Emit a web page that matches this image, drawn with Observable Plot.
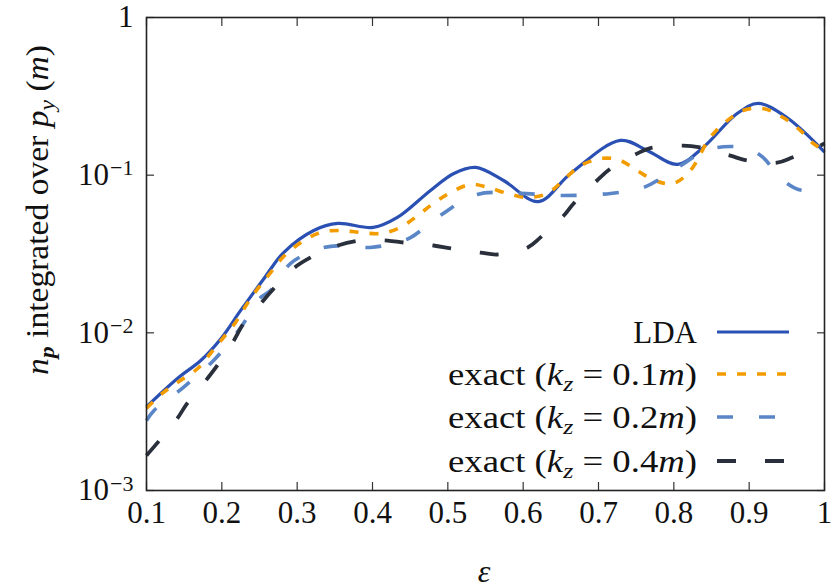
<!DOCTYPE html>
<html>
<head>
<meta charset="utf-8">
<script src="https://cdn.jsdelivr.net/npm/d3@7"></script>
<script src="https://cdn.jsdelivr.net/npm/@observablehq/plot@0.6"></script>
<style>
  html, body { margin: 0; padding: 0; background: #fff; }
  #chart { width: 832px; height: 588px; }
  #chart svg, #chart svg text, #chart svg tspan { font-family: "Liberation Serif", "Times New Roman", serif !important; }
</style>
</head>
<body>
<div id="chart"></div>
<script>
// ---- data ----
const ldaEps = [0.100, 0.141, 0.172, 0.199, 0.225, 0.256, 0.282, 0.322, 0.354, 0.401, 0.433, 0.477, 0.508, 0.537, 0.574, 0.620, 0.663, 0.729, 0.765, 0.805, 0.839, 0.884, 0.912, 0.950, 1.000];
const ldaVal = [0.0034, 0.00514, 0.00668, 0.00922, 0.01387, 0.0221, 0.0323, 0.0446, 0.0494, 0.0466, 0.0539, 0.0800, 0.1025, 0.112, 0.0925, 0.068, 0.1025, 0.166, 0.143, 0.117, 0.150, 0.246, 0.285, 0.232, 0.14];

const k01Eps = [0.100, 0.121, 0.145, 0.168, 0.185, 0.201, 0.218, 0.234, 0.249, 0.265, 0.282, 0.305, 0.331, 0.358, 0.384, 0.411, 0.437, 0.460, 0.481, 0.504, 0.530, 0.553, 0.579, 0.606, 0.632, 0.653, 0.676, 0.706, 0.729, 0.751, 0.775, 0.799, 0.822, 0.848, 0.871, 0.892, 0.918, 0.945, 0.968, 0.985, 1.000];
const k01Val = [0.00332, 0.00413, 0.00499, 0.00594, 0.0074, 0.0092, 0.0116, 0.0154, 0.0194, 0.0242, 0.0305, 0.0374, 0.0433, 0.0446, 0.0433, 0.0427, 0.0466, 0.0555, 0.0662, 0.0777, 0.0873, 0.0836, 0.0766, 0.0722, 0.0766, 0.0925, 0.115, 0.128, 0.124, 0.107, 0.0925, 0.0885, 0.107, 0.173, 0.222, 0.257, 0.265, 0.232, 0.192, 0.159, 0.143];

const k02Eps = [0.100, 0.110, 0.149, 0.189, 0.225, 0.250, 0.265, 0.291, 0.331, 0.362, 0.397, 0.433, 0.451, 0.490, 0.539, 0.596, 0.650, 0.716, 0.760, 0.799, 0.835, 0.858, 0.897, 0.918, 0.945, 0.972, 1.000];
const k02Val = [0.00278, 0.00322, 0.00451, 0.00668, 0.0108, 0.0165, 0.0186, 0.0275, 0.0343, 0.0358, 0.0348, 0.0374, 0.0403, 0.0555, 0.0755, 0.0766, 0.0743, 0.0766, 0.0836, 0.107, 0.137, 0.150, 0.148, 0.130, 0.0925, 0.080, 0.090];

const k04Eps = [0.100, 0.115, 0.141, 0.154, 0.181, 0.194, 0.216, 0.229, 0.252, 0.269, 0.295, 0.318, 0.354, 0.384, 0.420, 0.441, 0.481, 0.504, 0.543, 0.566, 0.606, 0.623, 0.654, 0.667, 0.698, 0.716, 0.751, 0.768, 0.812, 0.835, 0.875, 0.897, 0.937, 0.958, 0.990, 1.000];
const k04Val = [0.00167, 0.00202, 0.00287, 0.00357, 0.00514, 0.00621, 0.00895, 0.0115, 0.0154, 0.0191, 0.0256, 0.0301, 0.0358, 0.0385, 0.0385, 0.0374, 0.0358, 0.0343, 0.0323, 0.0314, 0.0348, 0.0403, 0.0555, 0.0662, 0.0925, 0.110, 0.137, 0.148, 0.154, 0.150, 0.133, 0.124, 0.120, 0.130, 0.150, 0.159];

const xTicks = [0.1, 0.2, 0.3, 0.4, 0.5, 0.6, 0.7, 0.8, 0.9, 1];
const xTickLabels = ["0.1", "0.2", "0.3", "0.4", "0.5", "0.6", "0.7", "0.8", "0.9", "1"];
const yTicks = [0.001, 0.01, 0.1, 1];
const yTickBase = ["10", "10", "10", "1"];
const yTickExp = ["−3", "−2", "−1", ""];

const seriesNames = ["LDA", "exact (k_z = 0.1m)", "exact (k_z = 0.2m)", "exact (k_z = 0.4m)"];
const seriesLabels = ["0.1", "0.2", "0.4"];
const colors = ["#2b50b3", "#f39c00", "#5a85c6", "#2a2f3c"];
const dashes = [null, "9,11", "16,26", "19,29"];
const widths = [3.2, 3.6, 3.6, 3.8];

const toRows = (xs, ys) => xs.map((x, i) => ({x, y: ys[i]}));
const series = [toRows(ldaEps, ldaVal), toRows(k01Eps, k01Val), toRows(k02Eps, k02Val), toRows(k04Eps, k04Val)];

const FONT = "Liberation Serif";

const chart = Plot.plot({
  width: 832,
  height: 588,
  marginLeft: 146,
  marginRight: 8,
  marginTop: 17,
  marginBottom: 98,
  style: {fontFamily: FONT, fontSize: "31px", color: "#111", background: "#fff", overflow: "visible"},
  x: {domain: [0.1, 1]},
  y: {type: "log", domain: [0.001, 1]},
  marks: [
    Plot.axisX({anchor: "bottom", ticks: xTicks, tickSize: -8, tickPadding: 18, label: null,
      tickFormat: d => xTickLabels[xTicks.indexOf(d)], stroke: "#333", strokeWidth: 1.2}),
    Plot.axisX({anchor: "top", ticks: xTicks, tickSize: -8, label: null, tickFormat: () => "", stroke: "#333", strokeWidth: 1.2}),
    Plot.axisY({anchor: "left", ticks: yTicks, tickSize: -8, tickPadding: 21, label: null,
      tickFormat: d => yTickBase[yTicks.indexOf(d)], stroke: "#333", strokeWidth: 1.2}),
    Plot.axisY({anchor: "right", ticks: yTicks, tickSize: -8, label: null, tickFormat: () => "", stroke: "#333", strokeWidth: 1.2}),
    ...series.map((rows, i) => Plot.line(rows, {
      x: "x", y: "y", curve: "catmull-rom",
      stroke: colors[i], strokeWidth: widths[i],
      strokeDasharray: dashes[i] ?? undefined, strokeLinecap: "butt"
    })),
    Plot.frame({stroke: "#222", strokeWidth: 1.6})
  ]
});

document.getElementById("chart").appendChild(chart);

const svg = d3.select(chart);

// superscript exponents on y tick labels (nodes come in tick order)
svg.selectAll('[aria-label="y-axis tick label"] text').nodes().forEach((node, i) => {
  const exp = yTickExp[i];
  if (exp) {
    d3.select(node).append("tspan").attr("dy", "-0.45em").attr("dx", "1").attr("font-size", "22px").text(exp);
  }
});

// y-axis title (rotated)
const yTitle = svg.append("text")
  .attr("transform", "translate(48,210) rotate(-90)")
  .attr("text-anchor", "middle")
  .attr("font-size", "31px")
  .attr("fill", "#111")
  .attr("textLength", 330)
  .attr("lengthAdjust", "spacingAndGlyphs");
yTitle.append("tspan").attr("font-style", "italic").text("n");
yTitle.append("tspan").attr("font-style", "italic").attr("font-weight", "bold").attr("font-size", "22px").attr("dy", "6").text("p");
yTitle.append("tspan").attr("dy", "-6").text(" integrated over ");
yTitle.append("tspan").attr("font-style", "italic").text("p");
yTitle.append("tspan").attr("font-style", "italic").attr("font-size", "22px").attr("dy", "6").text("y");
yTitle.append("tspan").attr("dy", "-6").text(" (");
yTitle.append("tspan").attr("font-style", "italic").text("m");
yTitle.append("tspan").text(")");

// x-axis title
svg.append("text")
  .attr("x", 484).attr("y", 582)
  .attr("text-anchor", "middle")
  .attr("font-size", "32px")
  .attr("font-style", "italic")
  .attr("fill", "#111")
  .text("ε");

// legend
const legY = [332, 374, 417, 461];
const leg = svg.append("g").attr("font-size", "31px").attr("fill", "#111");
seriesNames.forEach((name, i) => {
  const t = leg.append("text").attr("x", 697).attr("y", legY[i]).attr("dy", "0.35em").attr("text-anchor", "end");
  if (i === 0) {
    t.text("LDA");
  } else {
    t.attr("textLength", 249).attr("lengthAdjust", "spacingAndGlyphs");
    t.append("tspan").text("exact (");
    t.append("tspan").attr("font-style", "italic").text("k");
    t.append("tspan").attr("font-style", "italic").attr("font-size", "22px").attr("dy", "6").text("z");
    t.append("tspan").attr("dy", "-6").text(" = " + seriesLabels[i - 1]);
    t.append("tspan").attr("font-style", "italic").text("m");
    t.append("tspan").text(")");
  }
  leg.append("line")
    .attr("x1", 717).attr("x2", 789)
    .attr("y1", legY[i]).attr("y2", legY[i])
    .attr("stroke", colors[i]).attr("stroke-width", widths[i])
    .attr("stroke-dasharray", dashes[i]);
});
</script>
</body>
</html>
